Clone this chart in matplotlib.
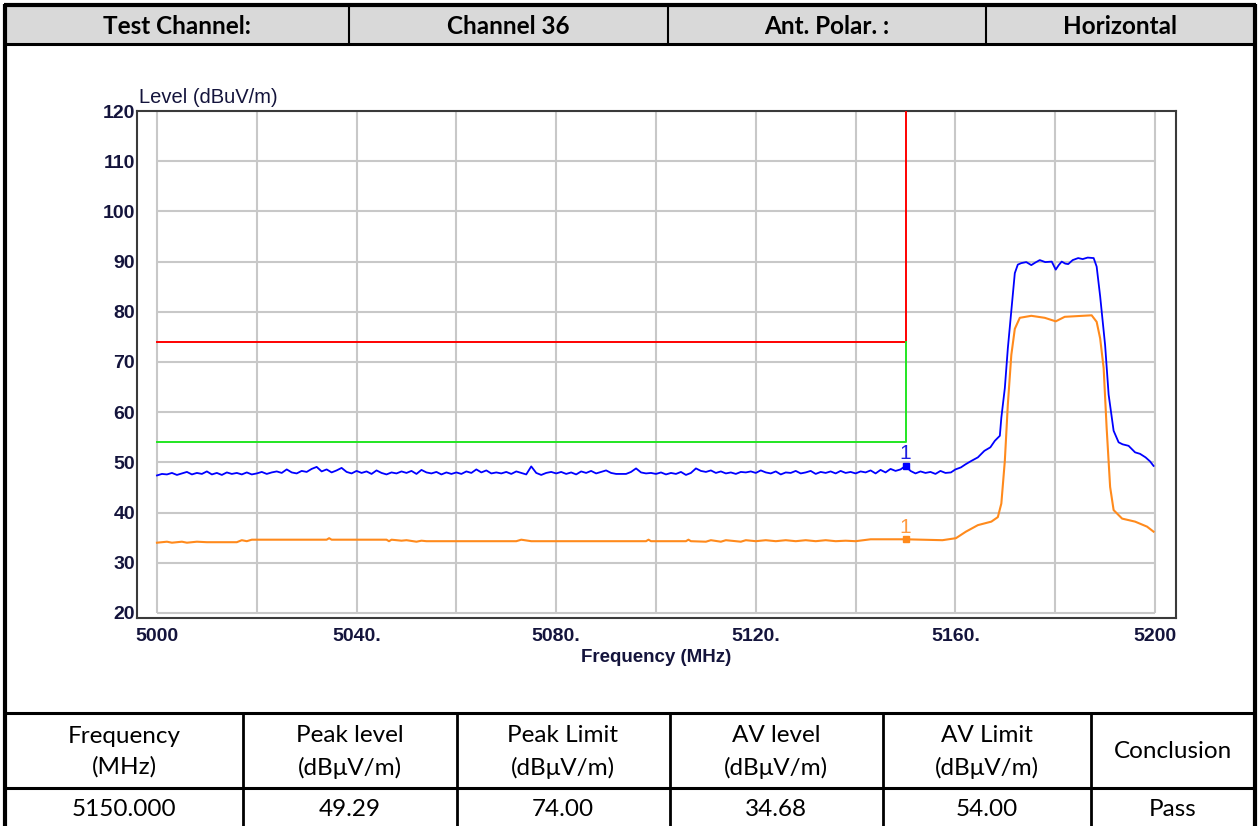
import numpy as np
import matplotlib
matplotlib.use("Agg")
import matplotlib.pyplot as plt
from matplotlib.patches import Rectangle

# %%
# data
header_cells = ["Test Channel:", "Channel 36", "Ant. Polar. :", "Horizontal"]
table_head = ["Frequency\n(MHz)", "Peak level\n(dB\u03bcV/m)", "Peak Limit\n(dB\u03bcV/m)",
              "AV level\n(dB\u03bcV/m)", "AV Limit\n(dB\u03bcV/m)", "Conclusion"]
table_vals = ["5150.000", "49.29", "74.00", "34.68", "54.00", "Pass"]

y_ticks = [20, 30, 40, 50, 60, 70, 80, 90, 100, 110, 120]
x_ticks = [5000, 5040, 5080, 5120, 5160, 5200]
x_tick_labels = ["5000", "5040.", "5080.", "5120.", "5160.", "5200"]
x_grid = [5000, 5020, 5040, 5060, 5080, 5100, 5120, 5140, 5160, 5180, 5200]

# peak trace: flat floor 5000..5158 (1 MHz steps), then the channel
peak_floor = [47.4, 47.7, 47.6, 47.9, 47.5, 47.8, 48.1, 47.6, 47.9, 47.7,
              48.2, 47.6, 47.9, 47.5, 48.0, 47.7, 47.9, 47.6, 48.0, 47.6,
              47.8, 48.1, 47.7, 48.0, 48.2, 47.9, 48.6, 48.0, 47.8, 48.3,
              48.1, 48.7, 49.1, 48.2, 48.6, 48.0, 48.4, 48.9, 48.1, 47.8,
              48.3, 47.9, 48.2, 47.7, 48.4, 47.9, 47.6, 48.0, 47.8, 48.2,
              47.9, 48.3, 47.7, 48.5, 48.0, 47.8, 48.1, 47.6, 48.0, 47.7,
              48.0, 47.7, 48.2, 47.9, 48.6, 48.0, 48.4, 47.8, 48.0, 47.8,
              48.1, 47.7, 48.2, 47.9, 47.6, 49.2, 47.9, 47.5, 47.9, 48.1,
              47.8, 48.1, 47.7, 48.0, 47.6, 48.2, 47.9, 48.3, 47.8, 48.1,
              48.4, 47.9, 47.7, 47.7, 47.7, 48.1, 48.8, 48.0, 47.8, 47.9,
              47.7, 48.0, 47.6, 47.9, 47.7, 48.1, 47.5, 47.9, 48.8, 48.3,
              48.1, 48.4, 47.9, 48.2, 47.8, 48.0, 47.7, 48.1, 48.0, 48.2,
              47.9, 48.4, 48.0, 47.8, 48.2, 47.6, 48.0, 47.9, 48.3, 47.8,
              48.0, 48.3, 47.7, 48.1, 47.9, 48.2, 47.8, 48.3, 47.9, 48.1,
              47.8, 48.2, 48.0, 48.4, 47.8, 48.5, 48.0, 48.7, 48.3, 48.6,
              49.29, 48.3, 47.8, 48.2, 47.9, 48.1, 47.7, 48.3, 47.9]
peak_floor_f = list(range(5000, 5159))

peak_band_f = [5159.1, 5160.0, 5161.1, 5162.0, 5163.2, 5164.5, 5165.8, 5167.0, 5167.9, 5168.9,
               5169.2, 5169.9, 5170.5, 5171.2, 5171.9, 5172.5, 5173.2, 5174.2, 5175.2, 5176.0,
               5176.9, 5178.0, 5179.3, 5180.1, 5180.7, 5181.3, 5182.0, 5182.6, 5183.5, 5184.6,
               5185.5, 5186.5, 5187.7, 5188.3, 5189.0, 5190.0, 5190.7, 5191.7, 5192.7, 5193.5,
               5194.7, 5195.4, 5196.0, 5197.0, 5198.1, 5199.0, 5199.7]
peak_band = [48.0, 48.6, 49.0, 49.6, 50.3, 51.0, 52.3, 53.0, 54.3, 55.3,
             58.9, 64.8, 72.7, 80.3, 87.7, 89.4, 89.7, 89.9, 89.3, 89.8,
             90.3, 89.9, 90.0, 88.4, 89.3, 90.0, 89.6, 89.5, 90.3, 90.7,
             90.5, 90.8, 90.7, 89.0, 83.1, 73.3, 63.5, 56.3, 54.0, 53.6,
             53.3, 52.6, 52.0, 51.7, 51.0, 50.2, 49.3]

# average trace
avg_f = [5000, 5002, 5003, 5005, 5006, 5008, 5010, 5016, 5017, 5018, 5019, 5020,
         5034, 5034.5, 5035, 5046, 5046.5, 5047, 5049, 5050, 5052, 5053, 5054, 5072,
         5073, 5075, 5098, 5098.5, 5099, 5106, 5106.5, 5107, 5110, 5111, 5113, 5114,
         5117, 5118, 5120, 5122, 5124, 5126, 5128, 5130, 5132, 5134, 5136, 5138,
         5140, 5143, 5150, 5157.4, 5160.1, 5162.1, 5164.5, 5167.2, 5168.5, 5169.2,
         5169.9, 5170.5, 5171.2, 5171.9, 5172.9, 5175.2, 5177.9, 5180.1, 5181.9, 5187.3,
         5188.3, 5189.0, 5189.7, 5190.3, 5191.0, 5191.7, 5193.4, 5196.0, 5198.4, 5199.7]
avg_lvl = [34.0, 34.2, 34.0, 34.2, 34.0, 34.2, 34.1, 34.1, 34.5, 34.3, 34.6, 34.6,
           34.6, 34.9, 34.6, 34.6, 34.3, 34.6, 34.4, 34.5, 34.2, 34.4, 34.3, 34.3,
           34.6, 34.3, 34.3, 34.6, 34.3, 34.3, 34.6, 34.3, 34.2, 34.5, 34.2, 34.5,
           34.2, 34.5, 34.3, 34.5, 34.3, 34.5, 34.3, 34.5, 34.3, 34.5, 34.3, 34.4,
           34.3, 34.68, 34.68, 34.5, 34.9, 36.2, 37.5, 38.2, 39.1, 41.8,
           50.3, 61.5, 71.4, 76.6, 78.8, 79.2, 78.8, 78.1, 79.0, 79.3,
           78.0, 74.7, 68.8, 56.9, 45.1, 40.5, 38.8, 38.2, 37.2, 36.2]

# limit lines
limit_f = [5000, 5150, 5150]
peak_limit = [74, 74, 120]
av_limit = [54, 54, 74]

marker_f = 5150
marker_peak = 49.29
marker_av = 34.68

# %%
W, H = 1259, 826
fig = plt.figure(figsize=(W / 100, H / 100), dpi=100)

# table drawn in pixel coords on a background axes
bg = fig.add_axes([0, 0, 1, 1])
bg.set_xlim(0, W)
bg.set_ylim(H, 0)
bg.axis("off")

tfont = ["Lato", "DejaVu Sans"]
bg.add_patch(Rectangle((5, 5), 1250, 39, facecolor="#D9D9D9", edgecolor="none"))
for x in [5, 1255]:
    bg.plot([x, x], [4, H], color="black", lw=3, solid_capstyle="butt")
bg.plot([4, 1256], [5, 5], color="black", lw=3, solid_capstyle="butt")
for y in [44, 713, 788]:
    bg.plot([4, 1256], [y, y], color="black", lw=2.2, solid_capstyle="butt")
for x in [349, 668, 986]:
    bg.plot([x, x], [5, 44], color="black", lw=1.5)
for x in [243, 457, 670, 883, 1091]:
    bg.plot([x, x], [713, H], color="black", lw=2)

hx = [177, 508, 827, 1120]
for txt, x in zip(header_cells, hx):
    bg.text(x, 27, txt, ha="center", va="center", fontsize=17.5,
            fontweight="bold", family=tfont)

cx = [124, 350, 563, 776, 987, 1173]
for txt, x in zip(table_head, cx):
    bg.text(x, 752, txt, ha="center", va="center", fontsize=17.5,
            family=tfont, linespacing=1.55)
for txt, x in zip(table_vals, cx):
    bg.text(x, 809, txt, ha="center", va="center", fontsize=17.5, family=tfont)

# %%
# the chart itself
left, right, top, bottom = 137, 1176, 111, 618
ax = fig.add_axes([left / W, (H - bottom) / H, (right - left) / W, (bottom - top) / H])
ax.set_xlim(4996.0, 5204.2)
ax.set_ylim(19.0, 120)

lab_col = "#14143c"
lfont = ["Liberation Sans", "DejaVu Sans"]

ax.hlines(y_ticks, 5000, 5200, color="#c8c8c8", lw=1.5, zorder=1)
ax.vlines(x_grid, 20, 120, color="#c8c8c8", lw=1.5, zorder=1)

ax.plot(limit_f, peak_limit, color="#ff0000", lw=1.4, zorder=3)
ax.plot(limit_f, av_limit, color="#22e622", lw=1.4, zorder=3)

ax.plot(peak_floor_f + peak_band_f, peak_floor + peak_band, color="#0000ff", lw=1.3, zorder=4)
ax.plot(avg_f, avg_lvl, color="#ff8a1c", lw=1.5, zorder=4)

ax.plot([marker_f], [marker_peak], "s", color="#0000ff", ms=4, zorder=5)
ax.plot([marker_f], [marker_av], "s", color="#ff8a1c", ms=4, zorder=5)
ax.annotate("1", (marker_f, marker_peak), xytext=(0, 2), textcoords="offset points",
            ha="center", va="bottom", color="#2020e0", fontsize=15, family=lfont)
ax.annotate("1", (marker_f, marker_av), xytext=(0, 2), textcoords="offset points",
            ha="center", va="bottom", color="#ff9a40", fontsize=15, family=lfont)

ax.set_yticks(y_ticks)
ax.set_yticklabels([str(v) for v in y_ticks], fontsize=14, fontweight="bold",
                   family=lfont, color=lab_col)
ax.set_xticks(x_ticks)
ax.set_xticklabels(x_tick_labels, fontsize=14, fontweight="bold",
                   family=lfont, color=lab_col)
ax.tick_params(axis="y", length=0, pad=1.5)
ax.tick_params(axis="x", length=0, pad=7)

for s in ax.spines.values():
    s.set_color("#3a3a3a")
    s.set_linewidth(1.5)

ax.text(0.002, 1.008, "Level (dBuV/m)", transform=ax.transAxes, ha="left", va="bottom",
        fontsize=14.5, family=lfont, color=lab_col)
ax.set_xlabel("Frequency (MHz)", fontsize=13.5, fontweight="bold", family=lfont,
              color=lab_col, labelpad=3)

fig.savefig("out.png", dpi=100)
